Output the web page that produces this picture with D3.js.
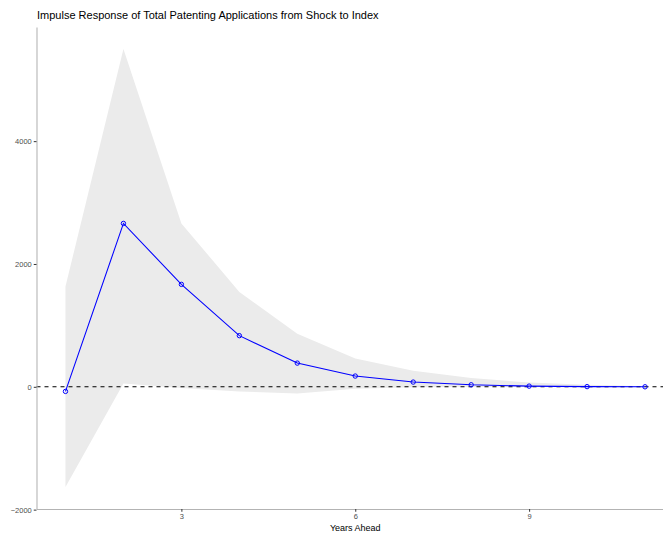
<!DOCTYPE html>
<html>
<head>
<meta charset="utf-8">
<script src="https://cdn.jsdelivr.net/npm/d3@7"></script>
<style>
  html, body { margin: 0; padding: 0; background: #fff; }
  svg { display: block; font-family: "Liberation Sans", Arial, sans-serif; }
</style>
</head>
<body>
<svg id="chart" width="663" height="537"></svg>
<script>
const years = [1, 2, 3, 4, 5, 6, 7, 8, 9, 10, 11];
const response = [-75, 2660, 1668, 833, 386, 175, 77, 33, 11, 3, 0];
const upper = [1633, 5502, 2660, 1545, 865, 462, 261, 142, 70, 33, 10];
const lower = [-1633, 55, -20, -75, -110, -30, -8, -3, -1, 0, 0];
const xTicks = [3, 6, 9];
const yTicks = [-2000, 0, 2000, 4000];
const titleText = "Impulse Response of Total Patenting Applications from Shock to Index";
const xLabel = "Years Ahead";

const svg = d3.select("#chart");
const panel = { left: 36.5, right: 674, top: 27, bottom: 509 };

const data = years.map((y, i) => ({ x: y, y: response[i], lo: lower[i], hi: upper[i] }));

const xExt = d3.extent(years);
const xPad = (xExt[1] - xExt[0]) * 0.05;
const x = d3.scaleLinear().domain([xExt[0] - xPad, xExt[1] + xPad]).range([panel.left, panel.right]);

const yMin = d3.min(lower.concat(response)), yMax = d3.max(upper.concat(response));
const yPad = (yMax - yMin) * 0.05;
const y = d3.scaleLinear().domain([yMin - yPad, yMax + yPad]).range([panel.bottom, panel.top]);

// band
svg.append("path")
  .datum(data)
  .attr("fill", "#ebebeb")
  .attr("d", d3.area().x(d => x(d.x)).y0(d => y(d.lo)).y1(d => y(d.hi)));

// zero dashed line
svg.append("line")
  .attr("x1", panel.left).attr("x2", panel.right)
  .attr("y1", y(0)).attr("y2", y(0))
  .attr("stroke", "#000").attr("stroke-width", 1.07)
  .attr("stroke-dasharray", "4,4");

// response line
svg.append("path")
  .datum(data)
  .attr("fill", "none")
  .attr("stroke", "#0000ff")
  .attr("stroke-width", 1.07)
  .attr("d", d3.line().x(d => x(d.x)).y(d => y(d.y)));

svg.append("g").selectAll("circle")
  .data(data).join("circle")
  .attr("cx", d => x(d.x)).attr("cy", d => y(d.y))
  .attr("r", 2.2)
  .attr("fill", "none")
  .attr("stroke", "#0000ff")
  .attr("stroke-width", 1);

// axes
const axisColor = "#b3b3b3";
const fmt = v => String(v).replace("-", "\u2212");
const xAxis = svg.append("g")
  .attr("transform", `translate(0,${panel.bottom})`)
  .call(d3.axisBottom(x).tickValues(xTicks).tickFormat(fmt).tickSize(2.75).tickPadding(2).tickSizeOuter(0));
const yAxis = svg.append("g")
  .attr("transform", `translate(${panel.left},0)`)
  .call(d3.axisLeft(y).tickValues(yTicks).tickFormat(fmt).tickSize(2.75).tickPadding(2).tickSizeOuter(0));

[xAxis, yAxis].forEach(g => {
  g.select(".domain").attr("stroke", axisColor).attr("stroke-width", 1.07);
  g.selectAll(".tick line").attr("stroke", "#333").attr("stroke-width", 1);
  g.selectAll(".tick text").attr("fill", "#4d4d4d").style("font-size", "7.5px")
    .style("font-family", "'Liberation Sans', Arial, sans-serif");
});

// title
svg.append("text")
  .attr("x", 37).attr("y", 19)
  .attr("fill", "#000")
  .style("font-size", "11px")
  .text(titleText);

// x label
svg.append("text")
  .attr("x", (panel.left + 674) / 2).attr("y", 531)
  .attr("text-anchor", "middle")
  .attr("fill", "#000")
  .style("font-size", "9px")
  .text(xLabel);
</script>
</body>
</html>
